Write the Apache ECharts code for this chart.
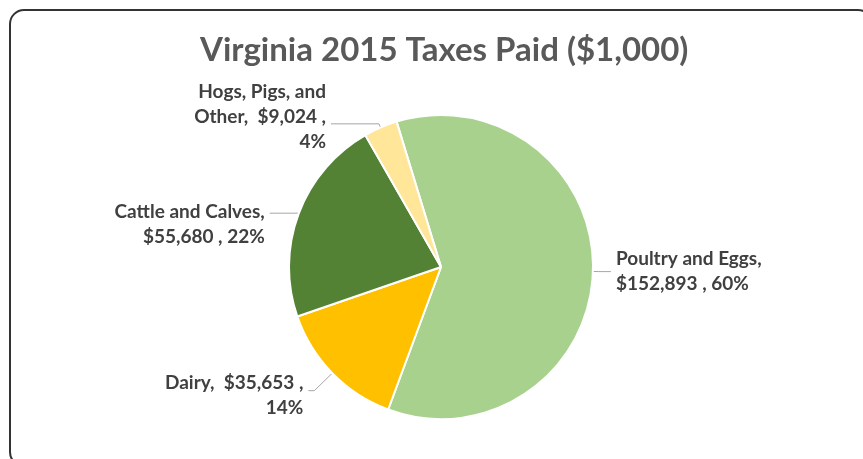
<!DOCTYPE html>
<html>
<head>
<meta charset="utf-8">
<title>Virginia 2015 Taxes Paid</title>
<script src="https://cdn.jsdelivr.net/npm/echarts@6/dist/echarts.min.js"></script>
<style>
  html, body { margin: 0; padding: 0; background: #fff; }
  #chart { width: 863px; height: 459px; }
</style>
</head>
<body>
<div id="chart"></div>
<script>
// data (values in $1,000)
var categories = ['Poultry and Eggs', 'Dairy', 'Cattle and Calves', 'Hogs, Pigs, and Other'];
var values = [152893, 35653, 55680, 9024];
var colors = ['#A9D18E', '#FFC000', '#548235', '#FFE699'];
// label text as wrapped in the original
var labelNames = ['Poultry and Eggs,', 'Dairy,  ', 'Cattle and Calves,', 'Hogs, Pigs, and\nOther,  '];
// leader line lengths per slice [first segment, second segment]
var leaderLens = [[6, 12], [25, 6], [1, 28], [4, 48]];
// vertical nudge of each label block
var labelNudge = [0, 5, 11, -7];

var total = values.reduce(function (a, b) { return a + b; }, 0);
function money(v) { return '$' + v.toLocaleString('en-US'); }

var chart = echarts.init(document.getElementById('chart'));

var pieData = categories.map(function (c, i) {
    return {
        name: c,
        value: values[i],
        itemStyle: { color: colors[i] },
        labelLine: { length: leaderLens[i][0], length2: leaderLens[i][1] }
    };
});

chart.setOption({
    animation: false,
    title: {
        text: 'Virginia 2015 Taxes Paid ($1,000)',
        left: 195,
        top: 29,
        textStyle: { fontFamily: 'Lato', fontSize: 33, fontWeight: 'bold', color: '#595959' }
    },
    graphic: [{
        type: 'rect',
        shape: { x: 10, y: 10, width: 862, height: 456, r: 14 },
        style: { fill: 'none', stroke: '#333', lineWidth: 2 },
        silent: true
    }],
    series: [{
        type: 'pie',
        center: [441, 267],
        radius: 152,
        startAngle: 107,
        clockwise: true,
        data: pieData,
        itemStyle: { borderColor: '#fff', borderWidth: 2 },
        label: {
            show: true,
            fontFamily: 'Lato',
            fontSize: 19,
            fontWeight: 'bold',
            color: '#404040',
            lineHeight: 25,
            align: 'center',
            formatter: function (p) {
                var i = p.dataIndex;
                var pct = Math.round(values[i] / total * 100) + '%';
                if (i === 0 || i === 2) return labelNames[i] + '\n' + money(values[i]) + ' , ' + pct;
                return labelNames[i] + money(values[i]) + ' ,\n' + pct;
            }
        },
        labelLayout: function (p) {
            return labelNudge[p.dataIndex] ? { dy: labelNudge[p.dataIndex] } : {};
        },
        labelLine: {
            show: true,
            lineStyle: { color: '#a6a6a6', width: 1 }
        }
    }]
});
</script>
</body>
</html>
